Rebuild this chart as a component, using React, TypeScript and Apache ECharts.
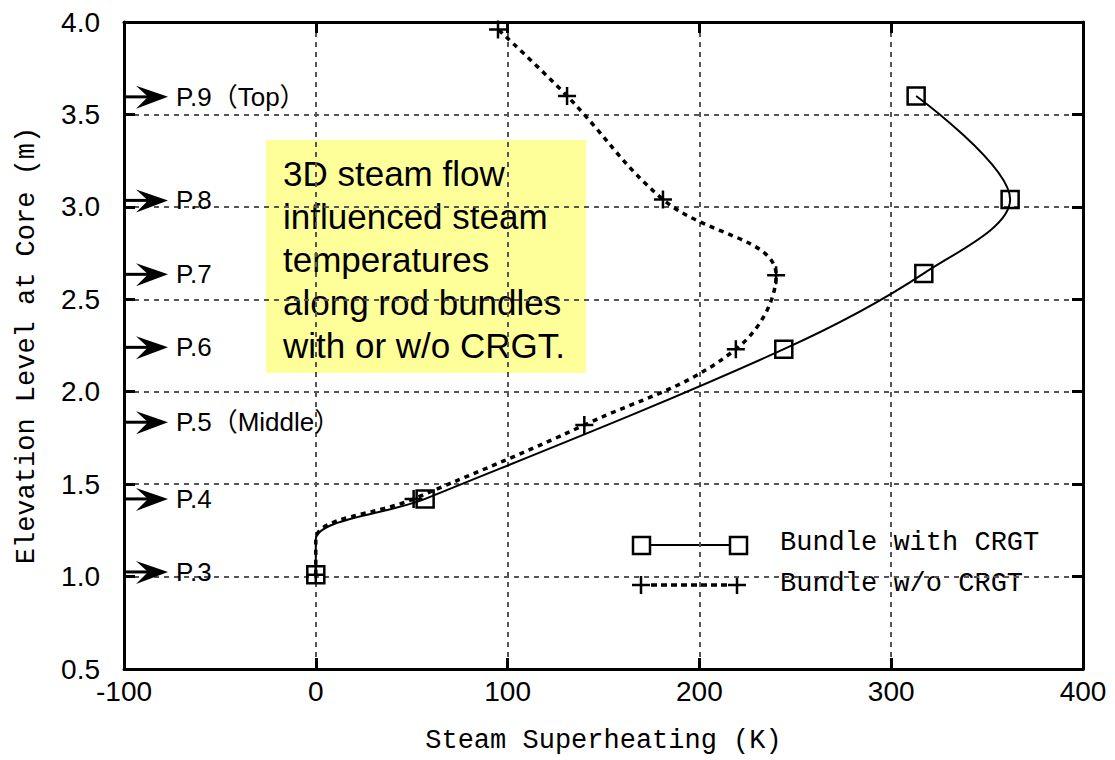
import React, { useEffect, useRef } from "react";
import * as echarts from "echarts";

// Steam superheating (K) vs elevation (m)
const withCRGT: [number, number][] = [
  [0, 1.01],
  [57, 1.42],
  [244, 2.23],
  [317, 2.64],
  [362, 3.04],
  [313, 3.6],
];
const withoutCRGT: [number, number][] = [
  [0, 1.01],
  [51, 1.42],
  [140, 1.82],
  [219, 2.23],
  [240, 2.63],
  [181, 3.04],
  [131, 3.6],
  [95, 3.96],
];
// level where both curves leave x = 0 (unmarked vertex of the lines)
const bendPoint: [number, number] = [0, 1.2];

const probeLabels = ["P.3", "P.4", "P.5（Middle）", "P.6", "P.7", "P.8", "P.9（Top）"];
const probeLevels = [1.025, 1.42, 1.835, 2.24, 2.635, 3.035, 3.595];

const xMin = -100;
const xMax = 400;
const xStep = 100;
const yMin = 0.5;
const yMax = 4.0;
const yStep = 0.5;

const noteLines = [
  "3D steam flow",
  "influenced steam",
  "temperatures",
  "along rod bundles",
  "with or w/o CRGT.",
];
const legendNames = ["Bundle with CRGT", "Bundle w/o CRGT"];

const PLUS = "path://M10,0L10,20M0,10L20,10";

function withBend(pts: [number, number][]) {
  const out: any[] = [pts[0], { value: bendPoint, symbol: "none" }];
  for (let i = 1; i < pts.length; i++) out.push(pts[i]);
  return out;
}

export default function App() {
  const ref = useRef<HTMLDivElement>(null);
  useEffect(() => {
    if (!ref.current) return;
    const chart = echarts.init(ref.current, undefined, { renderer: "svg" });
    const axisLine = { show: true, onZero: false, lineStyle: { color: "#000", width: 3 } };
    const axisTick = { show: true, inside: true, length: 11, lineStyle: { color: "#000", width: 3 } };
    const splitLine = { show: true, lineStyle: { color: "#555", width: 2, type: [5, 5] as any } };
    const mono = "'Liberation Mono', 'DejaVu Sans Mono', monospace";
    const sans = "'Liberation Sans', Arial, sans-serif";

    chart.setOption({
      animation: false,
      backgroundColor: "#fff",
      grid: { left: 124, right: 32, top: 22, bottom: 91, containLabel: false },
      xAxis: [
        {
          type: "value",
          min: xMin,
          max: xMax,
          interval: xStep,
          position: "bottom",
          axisLine,
          axisTick,
          splitLine,
          axisLabel: { color: "#000", fontSize: 28, fontFamily: sans, margin: 8 },
          name: "Steam Superheating (K)",
          nameLocation: "middle",
          nameGap: 58,
          nameTextStyle: { color: "#000", fontSize: 27, fontFamily: mono },
        },
        {
          type: "value",
          min: xMin,
          max: xMax,
          interval: xStep,
          position: "top",
          axisLine,
          axisTick,
          splitLine: { show: false },
          axisLabel: { show: false },
        },
      ],
      yAxis: [
        {
          type: "value",
          min: yMin,
          max: yMax,
          interval: yStep,
          position: "left",
          axisLine,
          axisTick,
          splitLine,
          axisLabel: {
            color: "#000",
            fontSize: 28,
            fontFamily: sans,
            margin: 24,
            formatter: (v: number) => v.toFixed(1),
          },
          name: "Elevation Level at Core (m)",
          nameLocation: "middle",
          nameGap: 84,
          nameTextStyle: { color: "#000", fontSize: 27, fontFamily: mono },
        },
        {
          type: "value",
          min: yMin,
          max: yMax,
          interval: yStep,
          position: "right",
          axisLine,
          axisTick,
          splitLine: { show: false },
          axisLabel: { show: false },
        },
      ],
      series: [
        {
          name: legendNames[0],
          type: "line",
          data: withBend(withCRGT),
          smooth: 0.35,
          symbol: "rect",
          symbolSize: 17,
          itemStyle: { color: "rgba(0,0,0,0)", borderColor: "#000", borderWidth: 2.5 },
          lineStyle: { color: "#000", width: 2 },
          z: 5,
        },
        {
          name: legendNames[1],
          type: "line",
          data: withBend(withoutCRGT),
          smooth: 0.4,
          symbol: PLUS,
          symbolSize: 18,
          itemStyle: { color: "rgba(0,0,0,0)", borderColor: "#000", borderWidth: 2.5 },
          lineStyle: { color: "#000", width: 3.5, type: [5, 5] as any },
          z: 4,
        },
        {
          type: "custom",
          coordinateSystem: "cartesian2d",
          clip: false,
          silent: true,
          z: 6,
          data: probeLevels.map((l) => [xMin, l]),
          renderItem: (params: any, api: any) => {
            const p = api.coord([api.value(0), api.value(1)]);
            const x = p[0];
            const y = p[1];
            return {
              type: "group",
              children: [
                { type: "line", shape: { x1: x, y1: y, x2: x + 26, y2: y }, style: { stroke: "#000", lineWidth: 3 } },
                {
                  type: "polygon",
                  shape: { points: [[x + 44, y], [x + 12, y - 11], [x + 24, y], [x + 12, y + 12]] },
                  style: { fill: "#000" },
                },
                {
                  type: "text",
                  style: {
                    text: probeLabels[params.dataIndex],
                    x: x + 52,
                    y: y,
                    fill: "#000",
                    font: "26px 'Liberation Sans', 'Noto Sans CJK JP', sans-serif",
                    verticalAlign: "middle",
                    align: "left",
                  },
                },
              ],
            };
          },
        },
      ],
      graphic: [
        {
          type: "group",
          z: 100,
          children: [
            { type: "rect", shape: { x: 266, y: 140, width: 320, height: 233 }, style: { fill: "#ffff99" } },
            {
              type: "text",
              style: {
                text: noteLines.join("\n"),
                x: 283,
                y: 152,
                fill: "#000",
                font: "35px 'Liberation Sans', Arial, sans-serif",
                lineHeight: 43,
                verticalAlign: "top",
              },
            },
          ],
        },
        {
          type: "group",
          z: 100,
          children: [
            { type: "line", shape: { x1: 642, y1: 545, x2: 739, y2: 545 }, style: { stroke: "#000", lineWidth: 2 } },
            { type: "rect", shape: { x: 633, y: 537, width: 17, height: 17 }, style: { fill: "#fff", stroke: "#000", lineWidth: 2.5 } },
            { type: "rect", shape: { x: 730, y: 537, width: 17, height: 17 }, style: { fill: "#fff", stroke: "#000", lineWidth: 2.5 } },
            {
              type: "text",
              style: { text: legendNames[0], x: 780, y: 543, fill: "#000", font: `27px ${mono}`, verticalAlign: "middle" },
            },
            {
              type: "line",
              shape: { x1: 651, y1: 585, x2: 728, y2: 585 },
              style: { stroke: "#000", lineWidth: 3.5, lineDash: [6, 4] },
            },
            { type: "line", shape: { x1: 632, y1: 585, x2: 650, y2: 585 }, style: { stroke: "#000", lineWidth: 2.5 } },
            { type: "line", shape: { x1: 641, y1: 576, x2: 641, y2: 594 }, style: { stroke: "#000", lineWidth: 2.5 } },
            { type: "line", shape: { x1: 728, y1: 585, x2: 746, y2: 585 }, style: { stroke: "#000", lineWidth: 2.5 } },
            { type: "line", shape: { x1: 737, y1: 576, x2: 737, y2: 594 }, style: { stroke: "#000", lineWidth: 2.5 } },
            {
              type: "text",
              style: { text: legendNames[1], x: 780, y: 584, fill: "#000", font: `27px ${mono}`, verticalAlign: "middle" },
            },
          ],
        },
      ],
    });
    return () => chart.dispose();
  }, []);
  return (
    <div
      ref={ref}
      style={{ position: "fixed", left: 0, top: 0, width: 1115, height: 760, background: "#fff" }}
    />
  );
}
